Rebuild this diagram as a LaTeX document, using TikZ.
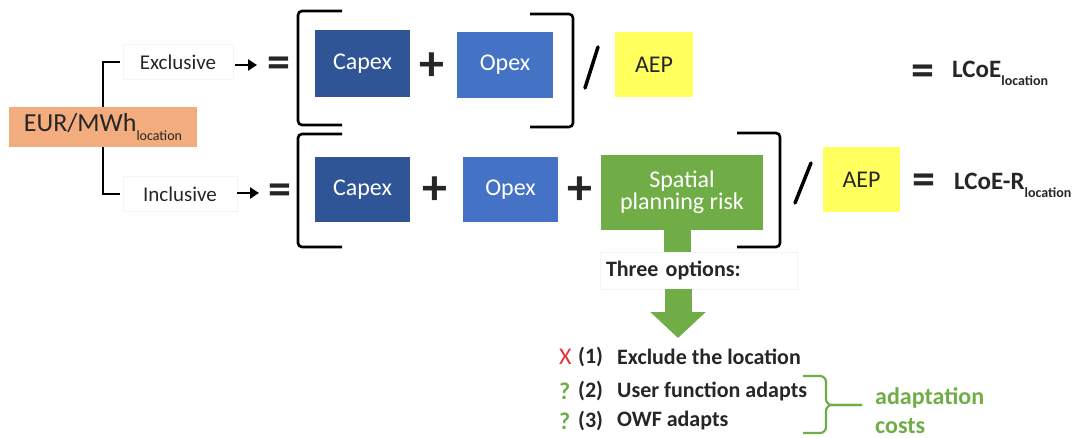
\documentclass[tikz,border=0pt]{standalone}
\usepackage{fontspec}
\setmainfont{Carlito}
\usetikzlibrary{arrows.meta}
\definecolor{eurc}{HTML}{F2AC7E}
\definecolor{capc}{HTML}{2F5597}
\definecolor{opc}{HTML}{4472C4}
\definecolor{grc}{HTML}{70AD47}
\definecolor{yelc}{HTML}{FFFF5E}
\definecolor{redc}{HTML}{E8303A}
\definecolor{txtc}{HTML}{262626}
\newcommand\fs[1]{\fontsize{#1}{#1}\selectfont}
\newcommand\lsub[1]{\raisebox{-0.32em}{\fs{14}#1}}
\tikzset{
  box/.style={minimum width=#1, inner sep=0pt, font=\fs{24}, text=white},
  lbl/.style={draw=black!4, line width=0.8pt, inner sep=0pt, minimum height=35pt, font=\fs{21}, text=txtc},
  brk/.style={line width=2.6pt, rounded corners=4pt},
  sym/.style={font=\fs{50}\bfseries, inner sep=0pt, text=txtc},
  eqs/.style={font=\fs{46}\bfseries, inner sep=0pt, text=txtc},
  sl/.style={line width=3.5pt, line cap=round},
  opt/.style={anchor=west, inner sep=0pt, font=\fs{22}\bfseries, text=txtc},
  smallarr/.style={line width=2.6pt, -{Triangle[length=9pt,width=11pt]}}
}
\begin{document}
\begin{tikzpicture}[x=1pt,y=-1pt]
\useasboundingbox (0,0) rectangle (1083,438);
% left
\node[fill=eurc, minimum width=188pt, minimum height=40pt, inner sep=0pt, font=\fs{26}, text=txtc] (eur) at (103,127) {EUR/MWh\lsub{location}};
\node[lbl, minimum width=110pt] (excl) at (178,62) {Exclusive};
\node[lbl, minimum width=114pt] (incl) at (180,194) {Inclusive};
\draw[line width=2.6pt] (eur.north) |- ([xshift=-3pt]excl.west);
\draw[line width=2.6pt] (eur.south) |- ([xshift=-3pt]incl.west);
\coordinate (a1s) at (235,65); \coordinate (a1e) at (257,65);
\coordinate (a2s) at (237,193); \coordinate (a2e) at (259,193);
\draw[smallarr] (a1s) -- (a1e);
\draw[smallarr] (a2s) -- (a2e);
\node[eqs] (eq1) at (279,67) {=};
\node[eqs] (eq2) at (280,194) {=};
% top row
\draw[brk] (342,11) -- (298,11) -- (298,125) -- (342,125);
\draw[brk] (530,14) -- (573,14) -- (573,127) -- (530,127);
\node[box=95pt, minimum height=67pt, fill=capc] (cap1) at (362.5,63.5) {Capex};
\node[sym] (p1) at (432,67) {+};
\node[box=96pt, minimum height=66pt, fill=opc] (op1) at (505,65) {Opex};
\coordinate (s1a) at (585,88); \coordinate (s1b) at (598,47);
\draw[sl] (s1a) -- (s1b);
\node[box=78pt, minimum height=65pt, fill=yelc, text=txtc] (aep1) at (654,64.5) {AEP};
\node[eqs] (eq3) at (923,75) {=};
\node[anchor=west, inner sep=0pt, font=\fs{25}\bfseries, text=txtc] (lc1) at (952,73) {LCoE\lsub{location}};
% bottom row
\draw[brk] (342,134) -- (298,134) -- (298,247) -- (342,247);
\draw[brk] (737,133) -- (780,133) -- (780,247) -- (737,247);
\node[box=95pt, minimum height=65pt, fill=capc] (cap2) at (362.5,189.5) {Capex};
\node[sym] (p2) at (435,191) {+};
\node[box=95pt, minimum height=65pt, fill=opc] (op2) at (510.5,189.5) {Opex};
\node[sym] (p3) at (580,191) {+};
\node[box=162pt, minimum height=75pt, fill=grc, align=center] (spr) at (682,192.5) {Spatial\\[-2pt]planning risk};
\coordinate (s2a) at (795,203); \coordinate (s2b) at (811,163);
\draw[sl] (s2a) -- (s2b);
\node[box=77pt, minimum height=65pt, fill=yelc, text=txtc] (aep2) at (861.5,180) {AEP};
\node[eqs] (eq4) at (924,184) {=};
\node[anchor=west, inner sep=0pt, font=\fs{25}\bfseries, text=txtc] (lc2) at (954,185) {LCoE-R\lsub{location}};
% three options
\node[draw=black!4, line width=0.8pt, minimum width=197pt, minimum height=37pt, inner sep=0pt, font=\fs{22}\bfseries, text=txtc, text width=185pt, align=left] (three) at (698.5,270.5) {Three options:};
\coordinate (sq) at (677,0);
\draw[grc, line width=27pt] (spr.south -| sq) -- (three.north -| sq);
\coordinate (atip) at (678,338);
\draw[grc, line width=27pt, -{Triangle[length=26pt,width=54pt]}] (three.south -| atip) -- (atip);
% options
\node[anchor=west, inner sep=0pt, font=\fs{24}, text=redc] (x1) at (559,357) {X};
\node[opt] (n1) at (578,357) {(1)};
\node[opt] (t1) at (617,357) {Exclude the location};
\node[anchor=west, inner sep=0pt, font=\fs{24}\bfseries, text=grc] (q2) at (559,391) {?};
\node[opt] (n2) at (578,391) {(2)};
\node[opt] (t2) at (617,391) {User function adapts};
\node[anchor=west, inner sep=0pt, font=\fs{24}\bfseries, text=grc] (q3) at (559,421) {?};
\node[opt] (n3) at (578,421) {(3)};
\node[opt] (t3) at (617,421) {OWF adapts};
% brace
\coordinate (bt) at (803,376); \coordinate (bb) at (803,433); \coordinate (bm) at (862,405);
\draw[grc, line width=2.2pt, rounded corners=6pt] (bt) -- (826,376) -- (826,405) -- (bm);
\draw[grc, line width=2.2pt, rounded corners=6pt] (bb) -- (826,433) -- (826,405) -- (bm);
\node[anchor=west, inner sep=0pt, font=\fs{24}\bfseries, text=grc, align=left] (ad) at (875,411) {adaptation\\[5pt]costs};
\end{tikzpicture}
\end{document}
